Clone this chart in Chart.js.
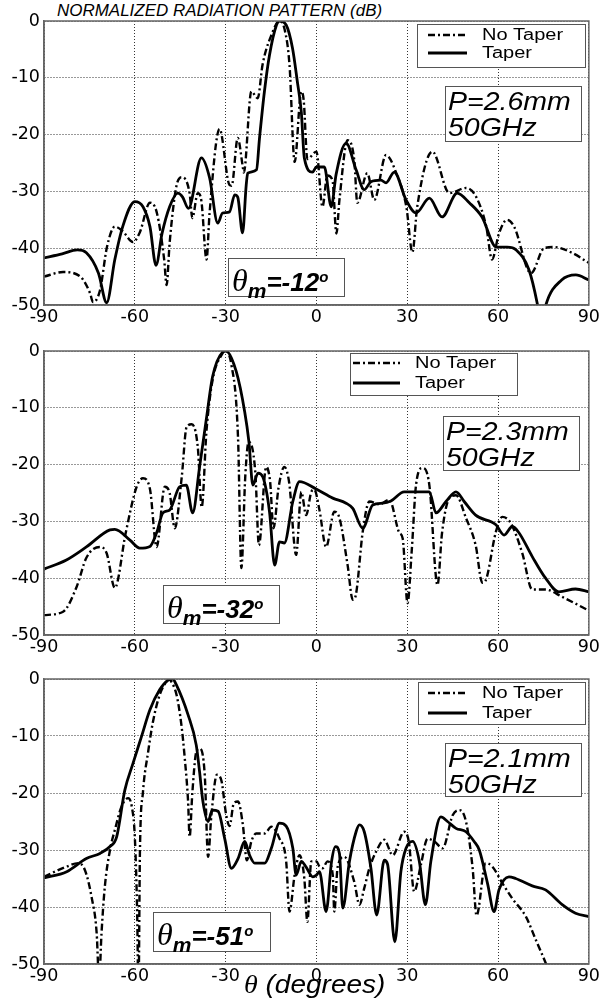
<!DOCTYPE html>
<html>
<head>
<meta charset="utf-8">
<script src="https://cdn.jsdelivr.net/npm/chart.js@4"></script>
<style>
  body { margin: 0; background: #fff; }
  #wrap { position: relative; width: 602px; height: 1006px; overflow: hidden; background: #fff; }
  .cv { position: absolute; left: 0; width: 602px; height: 330px; }
  .txt { position: absolute; white-space: nowrap; color: #000; font-family: "Liberation Sans", Arial, sans-serif; }
  .box { position: absolute; border: 1px solid #555; background: #fff; box-sizing: border-box; }
  .pbox span { display: block; font-style: italic; font-size: 25px; line-height: 26px; transform: scaleX(1.14); transform-origin: left; }
  .tbox { font-weight: bold; font-style: italic; font-size: 26px; line-height: 36px; padding-left: 3px; }
  .tbox .th { font-family: "Liberation Serif", serif; font-weight: normal; font-size: 32px; }
  .tbox sub { font-size: 21px; vertical-align: -7px; }
  .tbox sup { font-size: 15px; vertical-align: 9px; }
</style>
</head>
<body>
<div id="wrap">
  <div class="txt" style="left:57px;top:3px;font-size:16px;line-height:16px;font-style:italic;transform:scaleX(1.06);transform-origin:left;">NORMALIZED RADIATION PATTERN (dB)</div>
  <div class="cv" style="top:0px"><canvas id="c1"></canvas></div>
  <div class="cv" style="top:330px"><canvas id="c2"></canvas></div>
  <div class="cv" style="top:658px"><canvas id="c3"></canvas></div>
  <div class="txt" style="left:244px;top:972px;font-size:25px;line-height:25px;font-style:italic;transform:scaleX(1.12);transform-origin:left;"><span style="font-family:'Liberation Serif',serif">θ</span> (degrees)</div>
</div>
<script>
// angle axis (degrees) and level axis (dB)
const angleTicks = [-90, -60, -30, 0, 30, 60, 90]
const levelTicks = [-50, -40, -30, -20, -10, 0]
const pitchLabels = ["P=2.6mm", "P=2.3mm", "P=2.1mm"]
const freqLabel = "50GHz"
const scanAngles = ["-12", "-32", "-51"]

// panel 1: P=2.6mm, theta_m=-12
const p1NoTaper = [[-90,-45],[-83.7,-44.2],[-78,-45],[-74.8,-47.9],[-73.8,-49.5],[-71.5,-47.4],[-69.2,-39.8],[-66.6,-36.2],[-64,-37],[-60.6,-38.9],[-58.4,-37.3],[-55,-32],[-52.8,-33.6],[-50.3,-42],[-49.5,-46.5],[-48.5,-39.1],[-46.3,-29.2],[-44.5,-27.5],[-41.9,-30.3],[-41,-34.7],[-39.2,-30.3],[-38,-31.7],[-36.3,-42],[-35.3,-33.8],[-32,-19],[-28.7,-28.9],[-28,-29],[-26,-20.6],[-24.4,-25.4],[-24,-26.7],[-21.5,-12.4],[-19.4,-13.6],[-17.8,-7.7],[-14.9,-2.5],[-12.2,0],[-10.5,-1.5],[-8.9,-7.7],[-7.2,-24.8],[-5,-12.4],[-4.2,-14],[-3,-24.3],[0,-23],[2,-32.7],[3.6,-27.2],[5.3,-28],[6.6,-37.4],[7.6,-31.5],[10.3,-21],[12.5,-24.5],[13.5,-32],[16.8,-26.8],[19.1,-31.5],[23,-23.6],[26.4,-26.8],[29.7,-32.7],[31.7,-40.7],[33.3,-32.7],[38.3,-23],[43.9,-30.3],[49.5,-29.4],[52.8,-31],[56.1,-36.2],[58,-42],[60.3,-37.4],[63,-35],[65.3,-36.2],[70.9,-44.4],[75.2,-40],[78.5,-39.8],[84.4,-40.8],[90,-42.6]]
const p1Taper = [[-90,-41.7],[-84,-41],[-79,-40.3],[-76,-40.8],[-72,-44.4],[-69.3,-49.6],[-66.6,-42],[-64,-36.2],[-60,-31.8],[-57.3,-32.7],[-55,-36.2],[-53,-43],[-51,-37.4],[-48.5,-32.7],[-45.8,-30.3],[-44.2,-31],[-42.3,-33],[-38,-24.1],[-35.3,-27.6],[-32.6,-35.6],[-31,-33.8],[-28.7,-33.6],[-27,-30.6],[-26,-31],[-24.4,-37.3],[-23.2,-28.9],[-22.7,-26.8],[-19.8,-26.2],[-18.8,-20.6],[-17.2,-12.5],[-15.5,-6],[-13.2,-0.7],[-12.2,0],[-10,-0.7],[-7.9,-4.8],[-6.3,-10.7],[-5,-16],[-4,-24.1],[-1.3,-26.6],[0,-25.7],[2.6,-25.7],[4.9,-32.7],[6.5,-27],[9.8,-21.5],[13.1,-26.2],[15.8,-29.7],[18,-28.3],[21.3,-28],[23,-28.5],[25.7,-26.6],[29.6,-31.5],[32.9,-33.8],[37.3,-31.2],[41.5,-34.5],[46.5,-30.3],[50.5,-32],[54.7,-34.5],[59.4,-39.8],[63,-39.8],[66,-40.3],[70.2,-43.8],[72.9,-49.6],[74.3,-54],[75.8,-50],[81,-45.6],[85.7,-44.7],[90,-45.6]]

// panel 2: P=2.3mm, theta_m=-32
const p2NoTaper = [[-90,-46.5],[-83.7,-45.9],[-79.2,-41.5],[-76,-36.4],[-71.5,-34.5],[-69.3,-35.6],[-66.6,-41.7],[-63,-32],[-59.4,-23.9],[-57.3,-22.4],[-55,-24.3],[-52.8,-34.5],[-50.1,-23.9],[-48.5,-25],[-46.8,-31.2],[-44.5,-22.2],[-42.9,-13.4],[-41.2,-12.9],[-39.2,-16.9],[-37.9,-27.5],[-36.3,-13.9],[-34.3,-5.1],[-31,-0.4],[-30.3,0],[-28.1,-2.4],[-25.9,-15.3],[-24.8,-38.2],[-23.5,-22],[-22.4,-16],[-20.2,-21.3],[-19,-34.2],[-16.6,-20.4],[-15.3,-23],[-14.2,-31.2],[-12.5,-24],[-10.6,-20.4],[-9,-23.2],[-6.7,-35.9],[-5,-24.8],[-3.4,-28.9],[-1.7,-24.8],[-0.7,-24.4],[1,-28],[3.2,-34.5],[5.9,-28.3],[7.6,-29.4],[10.3,-37.7],[12,-43.8],[13,-43],[15.3,-31.8],[17.5,-26.5],[20.8,-27],[24.1,-26.2],[27.4,-32],[28.5,-33],[30.1,-44.4],[31.5,-35],[32.9,-23.6],[35,-20.6],[37.3,-23.6],[40,-41.2],[41.5,-32],[43.9,-25.9],[46.1,-25.4],[49.4,-29.4],[52.6,-34.2],[54.8,-40.8],[55.8,-40.5],[59.3,-31.8],[61.4,-29.2],[64.2,-30.3],[68,-35.6],[71.3,-42],[75.7,-42],[81.2,-43.3],[90,-45.7]]
const p2Taper = [[-90,-38.4],[-82.6,-36.8],[-76,-34.5],[-68.2,-31.5],[-66.6,-31.4],[-61.6,-33.3],[-58.4,-34.7],[-55,-34.4],[-52.8,-32],[-50.7,-28.5],[-48.5,-28],[-45.2,-23.9],[-43,-23.6],[-40.9,-28.5],[-38.6,-20.4],[-36.4,-12.1],[-34.3,-4.5],[-31,-0.2],[-29.9,0],[-26.5,-3.6],[-23.7,-10.7],[-22.3,-16],[-21,-23.6],[-19.3,-21.5],[-17.7,-22.2],[-15.5,-28.3],[-13.8,-37.7],[-12.2,-33.6],[-10.6,-33.8],[-7.8,-26.5],[-5.6,-23],[-0.1,-24.3],[5.4,-25.9],[9.8,-26.8],[12,-27.7],[15.3,-31.2],[18.6,-27.1],[21.9,-26.8],[24.6,-26.4],[29,-24.8],[32.3,-24.8],[37.3,-24.8],[39.5,-28.5],[42.8,-26.5],[46.1,-24.8],[48.8,-26.5],[52.6,-28.9],[59.3,-30.6],[62,-32.4],[64.7,-30.9],[66.9,-32],[71.3,-36.2],[75.7,-40],[80.1,-42.4],[85.6,-41.9],[90,-42.4]]

// panel 3: P=2.1mm, theta_m=-51
const p3NoTaper = [[-90,-34.7],[-82.5,-32.9],[-78.7,-32.3],[-76.5,-33.5],[-74.3,-38.2],[-72.6,-44.6],[-71.8,-53],[-71,-44.6],[-69.9,-36.4],[-68.2,-30],[-66.6,-26.5],[-64.4,-22.4],[-62.2,-20.9],[-61,-22.4],[-60,-27.7],[-59.2,-41.7],[-58.8,-56],[-58.3,-30],[-57.3,-19.8],[-55.6,-12.8],[-54,-7.5],[-51.8,-2.8],[-49.6,-0.5],[-48.7,0],[-47.9,-0.5],[-46.2,-2.8],[-44.6,-8.1],[-43.5,-13.9],[-42.4,-21.5],[-41.9,-27.7],[-41,-20],[-39.7,-12.8],[-38.6,-12.2],[-36.9,-16.8],[-35.8,-31.2],[-34.7,-23.9],[-32.9,-16.8],[-31.4,-17.8],[-29.8,-23.9],[-28.7,-25.8],[-27.3,-21.8],[-25.9,-21.5],[-24.3,-25.6],[-23,-31.8],[-21.5,-28.5],[-19.9,-27.1],[-17.1,-27.1],[-14.9,-25.9],[-12.2,-28],[-10,-32],[-8.9,-40.8],[-7.2,-34.4],[-5.6,-30.9],[-4,-35],[-3,-42.6],[-1.7,-32],[0,-32],[1,-32.9],[2,-33.2],[3.7,-32],[5.4,-34.4],[5.9,-40.8],[7,-33],[9.2,-31.2],[12.5,-35.6],[14.2,-39.6],[15.8,-36.7],[17.5,-33.2],[19.7,-30.3],[22.4,-28.2],[25.2,-30.9],[29,-26.8],[30.5,-28.5],[32.3,-37.3],[34.5,-32.6],[36.7,-28],[39,-28.5],[41.7,-29.7],[45,-23.9],[47.2,-23],[49.4,-25],[51.6,-33.2],[52.9,-41.5],[55.9,-32.3],[58.1,-32.9],[61.4,-35.8],[64.7,-38.5],[69.2,-41.7],[72.5,-45.8],[75.8,-49.9],[78,-53]]
const p3Taper = [[-90,-34.9],[-82.5,-33.8],[-76,-31.5],[-71.5,-30.6],[-68.2,-29.4],[-66,-27.7],[-63.3,-19.5],[-60.6,-14.8],[-57.8,-10.1],[-55,-5.4],[-51.8,-1.9],[-49,-0.2],[-47.5,0],[-46.3,-1],[-42.4,-6.3],[-39.7,-11.6],[-38.6,-16.3],[-37.5,-21.5],[-35.8,-25],[-34.4,-23],[-32.5,-23.2],[-30.3,-28],[-28.1,-33.2],[-25.9,-31.5],[-23.7,-28.5],[-22.1,-30.9],[-20.4,-32.3],[-17.1,-32.3],[-14.9,-29.7],[-12.2,-25.3],[-10,-25.8],[-7.8,-29.7],[-6.7,-34.4],[-5,-32],[-3.4,-33],[-1.2,-34.7],[0,-34.4],[1,-33.8],[3.2,-40.8],[5,-32],[6.3,-29.4],[7.6,-30.6],[8.7,-40.2],[10.9,-32],[13.1,-26.8],[14.2,-25.6],[15.8,-26.8],[18,-33.2],[19.9,-41.4],[22.4,-31.8],[23.5,-32.5],[25.9,-46.1],[27.9,-33.8],[29.6,-29.7],[31.8,-28.5],[34,-32],[36,-39.6],[37.8,-32],[41.1,-24.2],[43.3,-25],[46.1,-26.2],[49.4,-26.8],[52.1,-28.5],[53.8,-30],[56.5,-35.8],[58.7,-40.8],[60.3,-37],[63.6,-34.7],[65.8,-35],[71.3,-36.3],[75.7,-37],[81.2,-39.6],[85.6,-41.1],[90,-41.7]]

const toXY = arr => arr.map(p => ({ x: p[0], y: p[1] }))

// box round the plot area (matlab style)
const frame = {
  id: "frame",
  afterDatasetsDraw(chart) {
    const { ctx, chartArea: a } = chart
    ctx.save()
    ctx.strokeStyle = "#666"
    ctx.lineWidth = 1.5
    ctx.strokeRect(a.left, a.top, a.right - a.left, a.bottom - a.top)
    ctx.restore()
  }
}

// legend with a border, inside the plot
const boxLegend = {
  id: "boxLegend",
  afterDraw(chart, args, o) {
    const ctx = chart.ctx
    ctx.save()
    ctx.fillStyle = "#fff"
    ctx.fillRect(o.x, o.y, o.w, o.h)
    ctx.strokeStyle = "#555"
    ctx.lineWidth = 1
    ctx.strokeRect(o.x + 0.5, o.y + 0.5, o.w, o.h)
    chart.data.datasets.forEach((ds, i) => {
      const ly = o.y + o.rows[i]
      ctx.beginPath()
      ctx.setLineDash(ds.borderDash || [])
      ctx.lineWidth = ds.borderWidth
      ctx.strokeStyle = ds.borderColor
      ctx.moveTo(o.x + o.l0, ly)
      ctx.lineTo(o.x + o.l1, ly)
      ctx.stroke()
      ctx.setLineDash([])
      ctx.font = '16px "Liberation Sans", Arial, sans-serif'
      ctx.fillStyle = "#000"
      ctx.textBaseline = "middle"
      ctx.save()
      ctx.translate(o.x + o.tx, ly + 1)
      ctx.scale(1.25, 1)
      ctx.fillText(ds.label, 0, 0)
      ctx.restore()
    })
    ctx.restore()
  }
}

function makePanel(id, noTaper, taper, legendPos, plotHeight) {
  const ctx = document.getElementById(id)
  const xAxisHeight = 330 - 21 - plotHeight
  return new Chart(ctx, {
    type: "line",
    data: {
      datasets: [
        { label: "No Taper", data: toXY(noTaper), borderColor: "#000", borderWidth: 2.4, borderDash: [7, 3, 2, 3], pointRadius: 0, cubicInterpolationMode: "monotone" },
        { label: "Taper", data: toXY(taper), borderColor: "#000", borderWidth: 2.8, pointRadius: 0, cubicInterpolationMode: "monotone" }
      ]
    },
    options: {
      responsive: true,
      maintainAspectRatio: false,
      animation: false,
      layout: { padding: { top: 21, right: 12, left: 0, bottom: 0 } },
      scales: {
        x: {
          type: "linear",
          min: angleTicks[0],
          max: angleTicks[angleTicks.length - 1],
          afterBuildTicks: s => { s.ticks = angleTicks.map(v => ({ value: v })) },
          afterFit: s => { s.height = xAxisHeight },
          grid: { color: "#333", lineWidth: 1, drawTicks: false },
          border: { dash: [1, 2], color: "#666", width: 1.5 },
          ticks: { color: "#000", padding: 2, maxRotation: 0, font: { family: "DejaVu Sans", size: 17.5 } }
        },
        y: {
          min: levelTicks[0],
          max: levelTicks[levelTicks.length - 1],
          afterBuildTicks: s => { s.ticks = levelTicks.map(v => ({ value: v })) },
          afterFit: s => { s.width = 44 },
          grid: { color: "#333", lineWidth: 1, drawTicks: false },
          border: { dash: [1, 2], color: "#666", width: 1.5 },
          ticks: { color: "#000", padding: 4, font: { family: "DejaVu Sans", size: 17.5 } }
        }
      },
      plugins: {
        legend: { display: false },
        tooltip: { enabled: false },
        boxLegend: legendPos
      }
    },
    plugins: [frame, boxLegend]
  })
}

makePanel("c1", p1NoTaper, p1Taper, { x: 417, y: 24, w: 168, h: 43, rows: [11, 29], l0: 11, l1: 50, tx: 65 }, 284)
makePanel("c2", p2NoTaper, p2Taper, { x: 350, y: 23, w: 167, h: 42, rows: [10, 30], l0: 3, l1: 50, tx: 65 }, 284)
makePanel("c3", p3NoTaper, p3Taper, { x: 418, y: 24, w: 167, h: 42, rows: [11, 31], l0: 10, l1: 49, tx: 64 }, 285)

// text boxes: pitch/frequency and scan angle
const wrap = document.getElementById("wrap")
const pBoxes = [[445, 86, 137, 56], [443, 416, 137, 55], [445, 743, 137, 54]]
const tBoxes = [[228, 258, 117, 39], [163, 585, 117, 39], [153, 912, 118, 40]]
pBoxes.forEach((b, i) => {
  const d = document.createElement("div")
  d.className = "box pbox txt"
  d.style.cssText += `left:${b[0]}px;top:${b[1]}px;width:${b[2]}px;height:${b[3]}px;padding:1px 0 0 2px;`
  d.innerHTML = `<span>${pitchLabels[i]}</span><span>${freqLabel}</span>`
  wrap.appendChild(d)
})
tBoxes.forEach((b, i) => {
  const d = document.createElement("div")
  d.className = "box tbox txt"
  d.style.cssText += `left:${b[0]}px;top:${b[1]}px;width:${b[2]}px;height:${b[3]}px;`
  d.innerHTML = `<span class="th">θ</span><sub>m</sub>=${scanAngles[i]}<sup>o</sup>`
  wrap.appendChild(d)
})
</script>
</body>
</html>
